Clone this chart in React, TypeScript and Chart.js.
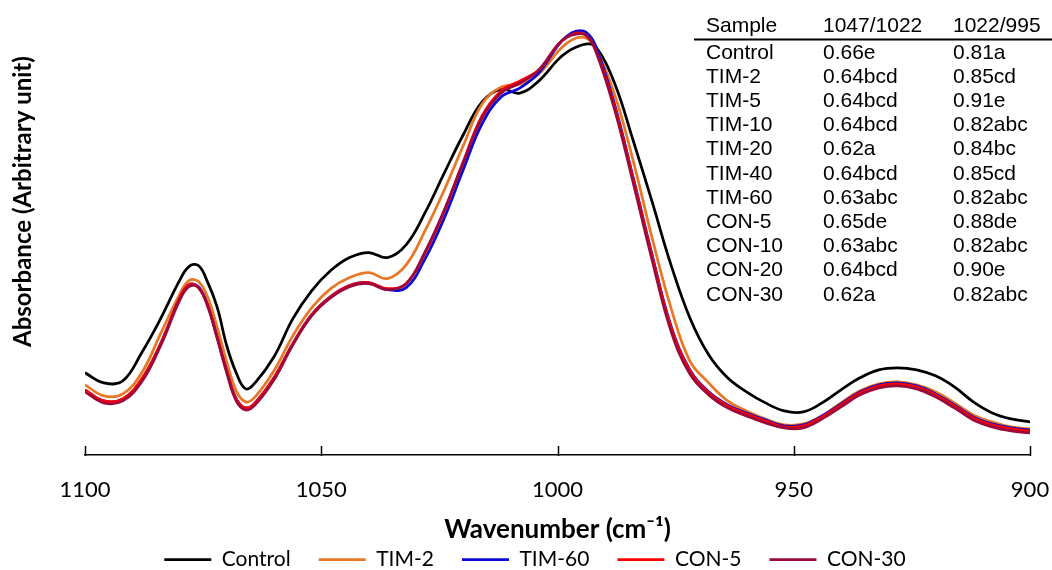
import React, { useEffect, useRef } from "react";
import { Chart, registerables } from "chart.js";

Chart.register(...registerables);

// Wavenumber (cm-1) sample positions
const wavenumbers = [1100,1096,1092,1088,1084,1080,1078,1076,1074,1072,1070,1068,1066,1064,1060,1056,1052,1048,1044,1040,1036,1032,1028,1024,1020,1016,1012,1008,1004,1000,998,996,994,992,988,984,980,976,972,968,964,960,956,952,948,944,940,936,932,928,924,920,916,912,908,904,900];

// Absorbance (arbitrary unit)
const controlValues = [82,72,74,102,136,174,188,189,172,147,109,82,66,72,98,136,164,184,197,202,197,210,242,281,319,352,365,361,373,394,402,407,410,408,372,314,253,190,137,100,77,63,52,44,43,52,65,77,85,87,85,79,68,53,42,36,33];
const tim2Values = [70,59,61,82,121,160,174,173,157,127,93,64,53,58,84,119,147,166,177,182,176,190,224,264,308,350,367,370,380,402,411,416,416,407,361,294,217,147,94,72,54,44,36,30,31,39,52,64,71,73,70,63,52,40,33,28,26];
const tim60Values = [65,54,56,75,111,156,170,168,149,117,84,56,47,52,77,111,140,158,169,172,165,167,196,236,284,330,357,366,381,408,418,423,422,409,351,277,200,129,85,63,50,42,35,29,30,39,51,63,70,72,69,61,50,38,31,27,25];
const con5Values = [65,54,56,76,111,156,170,167,149,117,84,56,47,52,77,111,140,158,169,172,166,171,202,243,292,338,363,373,384,409,417,421,419,405,349,276,199,128,84,62,49,41,34,28,29,38,50,62,69,71,68,60,49,37,30,26,24];
const con30Values = [63,52,54,73,109,154,168,167,148,116,82,54,45,50,75,110,139,157,168,171,165,171,203,244,291,336,361,371,384,409,417,420,419,404,346,272,195,124,81,60,47,39,32,27,27,36,48,60,67,69,66,58,47,35,28,24,22];

const seriesNames = ["Control", "TIM-2", "TIM-60", "CON-5", "CON-30"];
const seriesValues = [controlValues, tim2Values, tim60Values, con5Values, con30Values];
const seriesColors = ["#000000", "#E97826", "#0A0AD6", "#FF0000", "#9B0A3C"];

const xTickValues = [1100, 1050, 1000, 950, 900];
const xTitle = "Wavenumber (cm\u207B\u00B9)";
const yTitle = "Absorbance (Arbitrary unit)";

// Inset table
const tableHeader = ["Sample", "1047/1022", "1022/995"];
const tableSamples = ["Control", "TIM-2", "TIM-5", "TIM-10", "TIM-20", "TIM-40", "TIM-60", "CON-5", "CON-10", "CON-20", "CON-30"];
const ratio1047 = ["0.66e", "0.64bcd", "0.64bcd", "0.64bcd", "0.62a", "0.64bcd", "0.63abc", "0.65de", "0.63abc", "0.64bcd", "0.62a"];
const ratio1022 = ["0.81a", "0.85cd", "0.91e", "0.82abc", "0.84bc", "0.85cd", "0.82abc", "0.88de", "0.82abc", "0.90e", "0.82abc"];

const AXIS_FONT = "Lato, 'Open Sans', sans-serif";
const TABLE_FONT = "'Liberation Sans', Arial, sans-serif";

const decorPlugin = {
  id: "decor",
  afterDraw(chart: any) {
    const { ctx, chartArea, scales } = chart;
    const xs = scales.x;
    ctx.save();
    // inside tick marks
    ctx.strokeStyle = "#000";
    ctx.lineWidth = 1.5;
    xTickValues.forEach((t) => {
      const px = Math.round(xs.getPixelForValue(t)) + 0.5;
      ctx.beginPath();
      ctx.moveTo(px, chartArea.bottom + 1);
      ctx.lineTo(px, chartArea.bottom - 9);
      ctx.stroke();
    });
    ctx.restore();

    // y title
    ctx.save();
    ctx.translate(23, 347);
    ctx.rotate(-Math.PI / 2);
    ctx.font = `bold 24px ${AXIS_FONT}`;
    ctx.fillStyle = "#000";
    ctx.textAlign = "left";
    ctx.textBaseline = "middle";
    ctx.fillText(yTitle, 0, 0);
    ctx.restore();

    // table
    ctx.save();
    ctx.font = `21px ${TABLE_FONT}`;
    ctx.fillStyle = "#000";
    ctx.textAlign = "left";
    ctx.textBaseline = "alphabetic";
    const cols = [706, 823, 953];
    tableHeader.forEach((h, i) => ctx.fillText(h, cols[i], 32));
    ctx.strokeStyle = "#000";
    ctx.lineWidth = 2;
    ctx.beginPath();
    ctx.moveTo(694, 39.5);
    ctx.lineTo(1052, 39.5);
    ctx.stroke();
    tableSamples.forEach((s, r) => {
      const y = 58.5 + r * 24.2;
      ctx.fillText(s, cols[0], y);
      ctx.fillText(ratio1047[r], cols[1], y);
      ctx.fillText(ratio1022[r], cols[2], y);
    });
    ctx.restore();
  },
};

export default function App() {
  const canvasRef = useRef<HTMLCanvasElement | null>(null);

  useEffect(() => {
    document.body.style.margin = "0";
    const canvas = canvasRef.current;
    if (!canvas) return;
    const datasets = seriesNames.map((name, i) => ({
      label: name,
      data: wavenumbers.map((w, k) => ({ x: w, y: seriesValues[i][k] })),
      borderColor: seriesColors[i],
      backgroundColor: seriesColors[i],
      borderWidth: 2.75,
      pointRadius: 0,
      tension: 0.4,
      order: seriesNames.length - 1 - i,
    }));
    const chart = new Chart(canvas, {
      type: "line",
      data: { datasets },
      options: {
        animation: false,
        responsive: false,
        events: [],
        layout: { padding: { left: 40, right: 22, top: 20, bottom: -10 } },
        plugins: {
          tooltip: { enabled: false },
          legend: {
            position: "bottom",
            labels: {
              usePointStyle: true,
              pointStyle: "line",
              pointStyleWidth: 47,
              color: "#000",
              font: { family: AXIS_FONT, size: 21 },
              padding: 28,
              sort: (a: any, b: any) => a.datasetIndex - b.datasetIndex,
            },
          },
        },
        scales: {
          x: {
            type: "linear",
            min: 900,
            max: 1100,
            reverse: true,
            afterBuildTicks: (s: any) => {
              s.ticks = xTickValues.map((v) => ({ value: v }));
            },
            afterFit: (s: any) => {
              s.height = 66;
              s.paddingLeft = 0;
              s.paddingRight = 0;
            },
            ticks: {
              color: "#000",
              font: { family: AXIS_FONT, size: 22 },
              padding: 22,
              maxRotation: 0,
              autoSkip: false,
              callback: (v: any) => String(v),
            },
            grid: { display: false, drawTicks: false },
            border: { display: true, color: "#000", width: 1.5 },
            title: {
              display: true,
              text: xTitle,
              color: "#000",
              font: { family: AXIS_FONT, size: 26, weight: "bold" },
              padding: { top: 0, bottom: -24 },
            },
          },
          y: {
            min: 0,
            max: 434,
            display: true,
            ticks: { display: false },
            grid: { display: false, drawTicks: false },
            border: { display: false },
            title: { display: false },
            afterFit: (s: any) => {
              s.width = 45;
            },
          },
        },
      } as any,
      plugins: [decorPlugin],
    });
    return () => chart.destroy();
  }, []);

  return (
    <div style={{ width: 1052, height: 570, position: "relative" }}>
      <canvas ref={canvasRef} width={1052} height={570} style={{ display: "block" }} />
    </div>
  );
}
